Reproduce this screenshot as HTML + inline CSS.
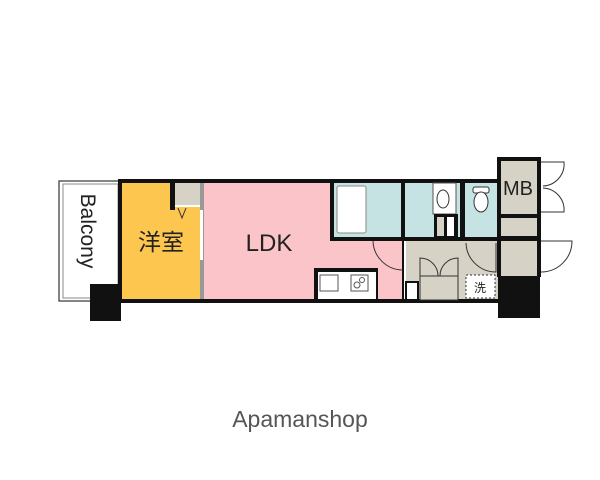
<!DOCTYPE html>
<html><head><meta charset="utf-8"><style>body{margin:0;background:#fff}svg{display:block}</style></head>
<body>
<svg width="600" height="480" viewBox="0 0 600 480" xmlns="http://www.w3.org/2000/svg" font-family="Liberation Sans, Noto Sans CJK JP, sans-serif">
<rect x="59" y="181" width="62" height="120" fill="#fff" stroke="#333" stroke-width="1.2"/>
<rect x="63" y="184" width="55" height="114" fill="#fff" stroke="#888" stroke-width="1"/>
<rect x="118" y="179" width="382" height="124" fill="#111"/>
<rect x="122" y="183" width="78" height="116" fill="#fcc64f"/>
<rect x="170" y="180" width="5" height="30" fill="#111"/>
<rect x="175" y="183" width="25" height="22" fill="#d6d2c6"/>
<rect x="175" y="205" width="25" height="2" fill="#fff"/>
<path d="M178 208 L182 218 L186 208" fill="none" stroke="#333" stroke-width="1"/>
<rect x="200" y="183" width="4" height="116" fill="#999"/>
<rect x="200" y="210" width="3" height="50" fill="#fff"/>
<rect x="204" y="183" width="198" height="116" fill="#fbc4c8"/>
<rect x="330" y="179" width="74" height="62" fill="#111"/>
<rect x="334" y="183" width="67" height="54" fill="#c6e3e4"/>
<rect x="337" y="186" width="29" height="47" rx="2" fill="#fff" stroke="#888"/>
<rect x="405" y="183" width="55" height="54" fill="#c6e3e4"/>
<rect x="433" y="183" width="23" height="31" fill="#fff" stroke="#555"/>
<ellipse cx="443" cy="199" rx="6" ry="9" fill="#fff" stroke="#333"/>
<rect x="434" y="214" width="24" height="23" fill="#111"/>
<rect x="437" y="217" width="7" height="19" fill="#d6d2c6"/>
<rect x="447" y="217" width="7" height="19" fill="#fff"/>
<rect x="465" y="183" width="33" height="54" fill="#c6e3e4"/>
<rect x="473" y="187" width="16" height="6" rx="2" fill="#fff" stroke="#333"/>
<ellipse cx="481" cy="202" rx="7" ry="10" fill="#fff" stroke="#333"/>
<rect x="405" y="241" width="93" height="58" fill="#d6d2c6"/>
<path d="M405 241 L405 299" stroke="#fff" stroke-width="2"/>
<path d="M466 243 A30 30 0 0 0 496 272 L496 243" fill="none" stroke="#333" stroke-width="1"/>
<path d="M373 241 A30 30 0 0 0 403 270" fill="none" stroke="#333" stroke-width="1"/>
<rect x="406" y="282" width="12" height="18" fill="#fff" stroke="#111" stroke-width="2"/>
<rect x="420" y="276" width="38" height="24" fill="#d6d2c6" stroke="#333"/>
<path d="M420 276 L420 258 A18 18 0 0 1 438 276 M458 276 L458 258 A18 18 0 0 0 440 276" fill="none" stroke="#333"/>
<rect x="466" y="275" width="29" height="23" fill="#fff" stroke="#333" stroke-dasharray="2,2"/>
<text x="480" y="292" font-size="12" text-anchor="middle" fill="#222">洗</text>
<rect x="497" y="157" width="44" height="120" fill="#111"/>
<rect x="501" y="161" width="36" height="53" fill="#d6d2c6"/>
<rect x="501" y="218" width="36" height="18" fill="#d6d2c6"/>
<rect x="501" y="241" width="36" height="35" fill="#d6d2c6"/>
<rect x="498" y="276" width="42" height="42" fill="#111"/>
<path d="M541 162 L564 162 A22 22 0 0 1 543 186 M541 212 L564 212 A22 22 0 0 0 543 188" fill="none" stroke="#333"/>
<path d="M541 241 L572 241 A31 31 0 0 1 541 272" fill="none" stroke="#333"/>
<rect x="314" y="268" width="64" height="33" fill="#111"/>
<rect x="318" y="272" width="58" height="27" fill="#fff"/>
<rect x="320" y="275" width="18" height="16" fill="#fff" stroke="#555"/>
<rect x="351" y="275" width="17" height="16" fill="#fff" stroke="#555"/>
<circle cx="357" cy="285" r="3" fill="none" stroke="#555"/><circle cx="362" cy="280" r="2.5" fill="none" stroke="#555"/>
<rect x="90" y="284" width="31" height="37" fill="#111"/>
<text x="0" y="0" font-size="21" fill="#222" transform="translate(81,231) rotate(90)" text-anchor="middle">Balcony</text>
<text x="161" y="250" font-size="23" fill="#222" text-anchor="middle">洋室</text>
<text x="269" y="251" font-size="24" fill="#222" text-anchor="middle">LDK</text>
<text x="518" y="195" font-size="20" fill="#222" text-anchor="middle">MB</text>
<text x="300" y="427" font-size="23" fill="#555" text-anchor="middle">Apamanshop</text>
</svg>
</body></html>
